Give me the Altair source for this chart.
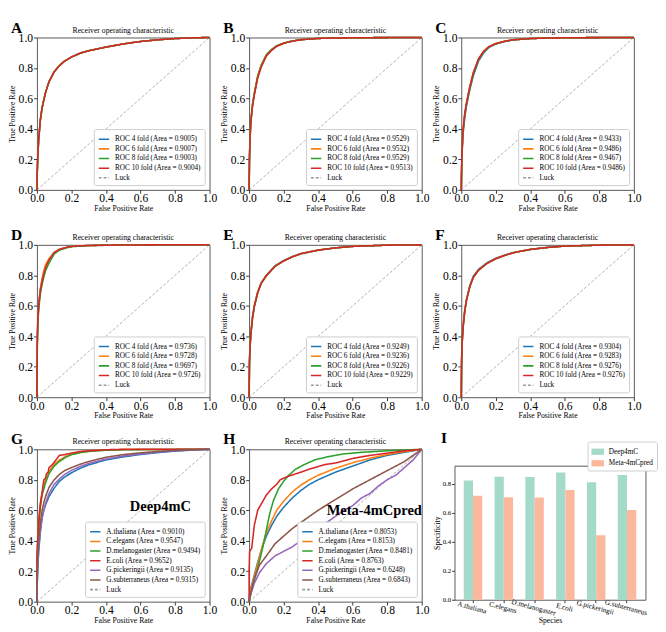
import altair as alt
import pandas as pd

FONT = "Liberation Serif"
TAB = ["#1f77b4", "#ff7f0e", "#2ca02c", "#d62728", "#9467bd", "#8c564b"]
LUCK_COLOR = "#9a9a9a"
PLOT_TITLE = "Receiver operating characteristic"
TICKS = [0, 0.2, 0.4, 0.6, 0.8, 1.0]
LUCK_X = [0, 1]
LUCK_Y = [0, 1]

# ---------------- Panel A ----------------
A_FPR = [0, 0.002, 0.005, 0.01, 0.02, 0.03, 0.05, 0.07, 0.1, 0.13, 0.16, 0.2, 0.25, 0.3, 0.4, 0.5, 0.6, 0.7, 0.8, 0.9, 1.0]
A_TPR_4 = [0, 0.12, 0.22, 0.33, 0.46, 0.54, 0.64, 0.71, 0.775, 0.815, 0.845, 0.872, 0.897, 0.913, 0.937, 0.958, 0.974, 0.985, 0.993, 0.998, 1.0]
A_TPR_6 = [0, 0.12, 0.22, 0.33, 0.46, 0.54, 0.64, 0.71, 0.776, 0.816, 0.846, 0.872, 0.897, 0.913, 0.937, 0.958, 0.974, 0.985, 0.993, 0.998, 1.0]
A_TPR_8 = [0, 0.12, 0.22, 0.33, 0.46, 0.54, 0.64, 0.71, 0.774, 0.815, 0.845, 0.871, 0.896, 0.913, 0.937, 0.958, 0.974, 0.985, 0.993, 0.998, 1.0]
A_TPR_10 = [0, 0.12, 0.22, 0.33, 0.46, 0.54, 0.64, 0.71, 0.775, 0.815, 0.845, 0.872, 0.897, 0.913, 0.937, 0.958, 0.974, 0.985, 0.993, 0.998, 1.0]
A_AUC = ["0.9005", "0.9007", "0.9003", "0.9004"]

# ---------------- Panel B ----------------
B_FPR = [0, 0.002, 0.005, 0.01, 0.02, 0.03, 0.05, 0.07, 0.1, 0.13, 0.16, 0.2, 0.25, 0.3, 0.4, 0.5, 0.7, 1.0]
B_TPR_4 = [0, 0.2, 0.33, 0.45, 0.56, 0.63, 0.745, 0.815, 0.885, 0.92, 0.945, 0.963, 0.977, 0.986, 0.994, 0.997, 0.999, 1.0]
B_TPR_6 = [0, 0.2, 0.33, 0.45, 0.56, 0.635, 0.75, 0.82, 0.887, 0.921, 0.946, 0.963, 0.977, 0.986, 0.994, 0.997, 0.999, 1.0]
B_TPR_8 = [0, 0.2, 0.33, 0.45, 0.56, 0.63, 0.745, 0.815, 0.885, 0.92, 0.945, 0.963, 0.977, 0.986, 0.994, 0.997, 0.999, 1.0]
B_TPR_10 = [0, 0.19, 0.32, 0.44, 0.55, 0.62, 0.735, 0.805, 0.878, 0.915, 0.942, 0.961, 0.976, 0.985, 0.994, 0.997, 0.999, 1.0]
B_AUC = ["0.9529", "0.9532", "0.9529", "0.9513"]

# ---------------- Panel C ----------------
C_FPR = [0, 0.002, 0.005, 0.01, 0.02, 0.03, 0.05, 0.07, 0.1, 0.13, 0.16, 0.2, 0.25, 0.3, 0.4, 0.5, 0.7, 1.0]
C_TPR_4 = [0, 0.13, 0.24, 0.36, 0.47, 0.55, 0.66, 0.75, 0.845, 0.9, 0.935, 0.957, 0.973, 0.984, 0.993, 0.997, 0.999, 1.0]
C_TPR_6 = [0, 0.15, 0.27, 0.39, 0.5, 0.57, 0.68, 0.77, 0.86, 0.91, 0.94, 0.96, 0.975, 0.985, 0.993, 0.997, 0.999, 1.0]
C_TPR_8 = [0, 0.14, 0.26, 0.38, 0.49, 0.56, 0.67, 0.76, 0.855, 0.905, 0.938, 0.959, 0.974, 0.985, 0.993, 0.997, 0.999, 1.0]
C_TPR_10 = [0, 0.15, 0.27, 0.39, 0.5, 0.57, 0.68, 0.77, 0.86, 0.91, 0.94, 0.96, 0.975, 0.985, 0.993, 0.997, 0.999, 1.0]
C_AUC = ["0.9433", "0.9486", "0.9467", "0.9486"]

# ---------------- Panel D ----------------
D_FPR = [0, 0.002, 0.005, 0.01, 0.02, 0.03, 0.04, 0.05, 0.07, 0.1, 0.13, 0.17, 0.2, 0.3, 0.5, 0.7, 1.0]
D_TPR_4 = [0, 0.36, 0.51, 0.61, 0.71, 0.77, 0.82, 0.86, 0.905, 0.95, 0.97, 0.983, 0.99, 0.996, 0.999, 1.0, 1.0]
D_TPR_6 = [0, 0.34, 0.49, 0.6, 0.71, 0.78, 0.83, 0.87, 0.91, 0.95, 0.97, 0.983, 0.99, 0.996, 0.999, 1.0, 1.0]
D_TPR_8 = [0, 0.33, 0.47, 0.57, 0.68, 0.74, 0.79, 0.83, 0.88, 0.94, 0.965, 0.98, 0.988, 0.995, 0.999, 1.0, 1.0]
D_TPR_10 = [0, 0.35, 0.5, 0.6, 0.7, 0.76, 0.81, 0.85, 0.9, 0.95, 0.97, 0.983, 0.99, 0.996, 0.999, 1.0, 1.0]
D_AUC = ["0.9736", "0.9728", "0.9697", "0.9726"]

# ---------------- Panel E ----------------
E_FPR = [0, 0.002, 0.005, 0.01, 0.02, 0.03, 0.05, 0.07, 0.1, 0.15, 0.2, 0.25, 0.3, 0.4, 0.5, 0.6, 0.8, 1.0]
E_TPR_4 = [0, 0.22, 0.32, 0.42, 0.53, 0.6, 0.69, 0.75, 0.8, 0.862, 0.897, 0.923, 0.943, 0.966, 0.98, 0.99, 0.998, 1.0]
E_TPR_6 = [0, 0.23, 0.33, 0.42, 0.53, 0.6, 0.69, 0.75, 0.8, 0.86, 0.895, 0.922, 0.942, 0.966, 0.98, 0.99, 0.998, 1.0]
E_TPR_8 = [0, 0.22, 0.32, 0.41, 0.52, 0.59, 0.685, 0.745, 0.797, 0.858, 0.894, 0.921, 0.941, 0.965, 0.98, 0.99, 0.998, 1.0]
E_TPR_10 = [0, 0.22, 0.32, 0.41, 0.52, 0.595, 0.688, 0.748, 0.798, 0.859, 0.894, 0.921, 0.942, 0.965, 0.98, 0.99, 0.998, 1.0]
E_AUC = ["0.9249", "0.9236", "0.9226", "0.9229"]

# ---------------- Panel F ----------------
F_FPR = [0, 0.002, 0.005, 0.01, 0.02, 0.03, 0.05, 0.07, 0.1, 0.15, 0.2, 0.25, 0.3, 0.4, 0.5, 0.6, 0.8, 1.0]
F_TPR_4 = [0, 0.25, 0.36, 0.46, 0.57, 0.64, 0.735, 0.795, 0.84, 0.883, 0.912, 0.932, 0.949, 0.97, 0.983, 0.992, 0.998, 1.0]
F_TPR_6 = [0, 0.25, 0.36, 0.46, 0.57, 0.64, 0.73, 0.79, 0.835, 0.88, 0.91, 0.93, 0.948, 0.97, 0.983, 0.992, 0.998, 1.0]
F_TPR_8 = [0, 0.24, 0.35, 0.45, 0.56, 0.635, 0.727, 0.787, 0.833, 0.879, 0.909, 0.93, 0.948, 0.97, 0.983, 0.992, 0.998, 1.0]
F_TPR_10 = [0, 0.24, 0.35, 0.45, 0.56, 0.635, 0.727, 0.787, 0.833, 0.879, 0.909, 0.93, 0.948, 0.97, 0.983, 0.992, 0.998, 1.0]
F_AUC = ["0.9304", "0.9283", "0.9276", "0.9276"]

FOLDS = ["4", "6", "8", "10"]

# ---------------- Species panels G / H ----------------
SPECIES = ["A.thaliana", "C.elegans", "D.melanogaster", "E.coli", "G.pickeringii", "G.subterraneus"]

G_ATH_X = [0, 0.002, 0.005, 0.01, 0.02, 0.03, 0.04, 0.05, 0.07, 0.1, 0.13, 0.16, 0.2, 0.25, 0.3, 0.4, 0.5, 0.6, 0.7, 0.8, 0.9, 1.0]
G_ATH_Y = [0, 0.12, 0.22, 0.33, 0.46, 0.55, 0.6, 0.635, 0.69, 0.745, 0.79, 0.818, 0.846, 0.875, 0.898, 0.93, 0.95, 0.966, 0.978, 0.988, 0.995, 1.0]
G_CEL_X = [0, 0.002, 0.005, 0.01, 0.02, 0.03, 0.05, 0.07, 0.1, 0.13, 0.17, 0.2, 0.25, 0.3, 0.4, 0.5, 0.7, 1.0]
G_CEL_Y = [0, 0.3, 0.42, 0.53, 0.65, 0.72, 0.8, 0.855, 0.9, 0.93, 0.955, 0.968, 0.98, 0.988, 0.995, 0.998, 0.999, 1.0]
G_DME_X = [0, 0.002, 0.005, 0.01, 0.02, 0.03, 0.05, 0.07, 0.1, 0.13, 0.17, 0.2, 0.25, 0.3, 0.4, 0.5, 0.7, 1.0]
G_DME_Y = [0, 0.28, 0.4, 0.5, 0.62, 0.7, 0.78, 0.84, 0.89, 0.92, 0.95, 0.964, 0.978, 0.986, 0.994, 0.997, 0.999, 1.0]
G_ECO_X = [0, 0, 0.003, 0.006, 0.01, 0.013, 0.016, 0.02, 0.025, 0.03, 0.035, 0.04, 0.05, 0.055, 0.065, 0.07, 0.08, 0.09, 0.1, 0.11, 0.12, 0.13, 0.16, 0.2, 0.25, 0.3, 0.4, 0.5, 0.7, 1.0]
G_ECO_Y = [0, 0.3, 0.37, 0.43, 0.5, 0.55, 0.6, 0.64, 0.68, 0.71, 0.76, 0.8, 0.81, 0.84, 0.85, 0.88, 0.89, 0.9, 0.915, 0.93, 0.945, 0.96, 0.965, 0.975, 0.985, 0.99, 0.997, 1.0, 1.0, 1.0]
G_GPI_X = [0, 0.002, 0.005, 0.01, 0.02, 0.03, 0.04, 0.05, 0.07, 0.1, 0.13, 0.16, 0.2, 0.25, 0.3, 0.4, 0.5, 0.6, 0.7, 0.8, 0.9, 1.0]
G_GPI_Y = [0, 0.14, 0.24, 0.34, 0.47, 0.55, 0.6, 0.645, 0.71, 0.77, 0.805, 0.835, 0.862, 0.887, 0.907, 0.936, 0.956, 0.97, 0.981, 0.99, 0.996, 1.0]
G_GSU_X = [0, 0.002, 0.005, 0.01, 0.02, 0.03, 0.04, 0.05, 0.07, 0.1, 0.13, 0.16, 0.2, 0.25, 0.3, 0.4, 0.5, 0.6, 0.7, 0.8, 0.9, 1.0]
G_GSU_Y = [0, 0.18, 0.3, 0.4, 0.52, 0.6, 0.65, 0.69, 0.75, 0.8, 0.835, 0.86, 0.88, 0.902, 0.92, 0.948, 0.965, 0.977, 0.986, 0.993, 0.997, 1.0]
G_AUC = ["0.9010", "0.9547", "0.9494", "0.9652", "0.9135", "0.9315"]

H_ATH_X = [0, 0.005, 0.02, 0.05, 0.08, 0.1, 0.13, 0.16, 0.2, 0.25, 0.3, 0.35, 0.4, 0.5, 0.6, 0.7, 0.8, 0.9, 1.0]
H_ATH_Y = [0, 0.07, 0.13, 0.26, 0.37, 0.43, 0.5, 0.56, 0.62, 0.68, 0.73, 0.77, 0.8, 0.85, 0.89, 0.93, 0.96, 0.98, 1.0]
H_CEL_X = [0, 0.005, 0.02, 0.05, 0.08, 0.1, 0.13, 0.16, 0.2, 0.25, 0.3, 0.35, 0.4, 0.5, 0.6, 0.7, 0.8, 0.9, 1.0]
H_CEL_Y = [0, 0.06, 0.12, 0.25, 0.38, 0.45, 0.53, 0.6, 0.66, 0.72, 0.765, 0.8, 0.83, 0.875, 0.912, 0.942, 0.966, 0.985, 1.0]
H_DME_X = [0, 0.02, 0.05, 0.08, 0.1, 0.12, 0.14, 0.17, 0.2, 0.23, 0.27, 0.32, 0.38, 0.45, 0.55, 0.65, 0.8, 1.0]
H_DME_Y = [0, 0.1, 0.22, 0.36, 0.47, 0.58, 0.66, 0.74, 0.79, 0.83, 0.87, 0.9, 0.93, 0.95, 0.97, 0.98, 0.99, 1.0]
H_ECO_X = [0, 0, 0.003, 0.015, 0.02, 0.025, 0.03, 0.04, 0.05, 0.07, 0.1, 0.13, 0.16, 0.18, 0.22, 0.3, 0.35, 0.44, 0.5, 0.6, 0.7, 0.8, 0.9, 1.0]
H_ECO_Y = [0, 0.2, 0.33, 0.35, 0.4, 0.45, 0.5, 0.55, 0.6, 0.64, 0.7, 0.74, 0.77, 0.8, 0.82, 0.85, 0.87, 0.9, 0.91, 0.94, 0.96, 0.975, 0.99, 1.0]
H_GPI_X = [0, 0.01, 0.03, 0.06, 0.1, 0.15, 0.2, 0.25, 0.3, 0.35, 0.4, 0.45, 0.5, 0.55, 0.6, 0.65, 0.7, 0.75, 0.8, 0.85, 0.9, 0.95, 1.0]
H_GPI_Y = [0, 0.05, 0.12, 0.19, 0.25, 0.3, 0.33, 0.36, 0.4, 0.44, 0.48, 0.52, 0.56, 0.6, 0.63, 0.68, 0.71, 0.76, 0.8, 0.83, 0.88, 0.93, 1.0]
H_GSU_X = [0, 0.01, 0.03, 0.06, 0.1, 0.15, 0.2, 0.25, 0.3, 0.35, 0.4, 0.5, 0.6, 0.7, 0.8, 0.9, 0.95, 1.0]
H_GSU_Y = [0, 0.06, 0.15, 0.24, 0.3, 0.38, 0.43, 0.48, 0.52, 0.56, 0.6, 0.67, 0.74, 0.8, 0.86, 0.92, 0.96, 1.0]
H_AUC = ["0.8053", "0.8153", "0.8481", "0.8763", "0.6248", "0.6843"]

# ---------------- Panel I (bars) ----------------
MODELS = ["Deep4mC", "Meta-4mCpred"]
DEEP_SPEC = [0.822, 0.849, 0.847, 0.878, 0.811, 0.86]
META_SPEC = [0.717, 0.708, 0.706, 0.758, 0.445, 0.619]
BAR_COLORS = ["#a3dac9", "#fcb89d"]

PW, PH = 179, 158
FRAME = "#555555"


def unit_scale():
    return alt.Scale(domain=[0, 1], nice=False, zero=False)


XAX = alt.Axis(values=TICKS, format=".1f", title="False Positive Rate", titleFontSize=8,
               labelFontSize=12, tickSize=3.5, labelPadding=0, titlePadding=1,
               labelFlush=False, labelOverlap=False, labelBound=False, domain=False, grid=False)
YAX = alt.Axis(values=TICKS, format=".1f", title="True Positive Rate", titleFontSize=8,
               labelFontSize=12, tickSize=3.5, labelPadding=1, titlePadding=2,
               labelFlush=False, labelOverlap=False, labelBound=False, domain=False, grid=False)


def roc_panel(letter, labels, curves, colors, tag=None, tag_x=0.7, tag_y=0.6):
    rows = []
    for lab, (fx, ty) in zip(labels, curves):
        for i, (a, b) in enumerate(zip(fx, ty)):
            rows.append({"series": lab, "fpr": a, "tpr": b, "i": i, "w": 1.6})
    for i, (a, b) in enumerate(zip(LUCK_X, LUCK_Y)):
        rows.insert(i, {"series": "Luck", "fpr": a, "tpr": b, "i": i, "w": 0.8})
    df = pd.DataFrame(rows)
    domain = labels + ["Luck"]
    legend = alt.Legend(
        orient="bottom-right", title=None, symbolType="stroke", symbolSize=115,
        symbolStrokeWidth=1.6, labelFont=FONT, labelFontSize=7.5, labelLimit=300,
        strokeColor="#cccccc", fillColor="white", padding=4, cornerRadius=2,
        offset=5, rowPadding=0, labelOffset=5,
    )
    lines = alt.Chart(df).mark_line().encode(
        x=alt.X("fpr:Q", scale=unit_scale(), axis=XAX),
        y=alt.Y("tpr:Q", scale=unit_scale(), axis=YAX),
        color=alt.Color("series:N", scale=alt.Scale(domain=domain, range=colors + [LUCK_COLOR]), legend=legend),
        strokeDash=alt.StrokeDash("series:N", scale=alt.Scale(domain=domain, range=[[1, 0]] * len(labels) + [[3, 2]]), legend=legend),
        strokeWidth=alt.StrokeWidth("w:Q", scale=None, legend=None),
        order=alt.Order("i:Q"),
    )

    def text_layer(txt, x, y, **kw):
        return alt.Chart(pd.DataFrame({"t": [txt]})).mark_text(font=FONT, color="black", **kw).encode(
            x=alt.XDatum(x, axis=XAX, scale=unit_scale()),
            y=alt.YDatum(y, axis=YAX, scale=unit_scale()),
            text="t:N",
        )

    layers = [
        lines,
        text_layer(PLOT_TITLE, 0.5, 1.0, fontSize=8, baseline="bottom", dy=-3),
        text_layer(letter, -0.15, 1.115, fontSize=16, fontWeight="bold", align="left", baseline="top"),
    ]
    if tag:
        layers.append(text_layer(tag, tag_x, tag_y, fontSize=15, fontWeight="bold"))
    return alt.layer(*layers).properties(width=PW, height=PH)


def fold_panel(letter, fpr, tprs, aucs):
    labels = [f"ROC {f} fold (Area = {a})" for f, a in zip(FOLDS, aucs)]
    return roc_panel(letter, labels, [(fpr, t) for t in tprs], TAB[:4])


pA = fold_panel("A", A_FPR, [A_TPR_4, A_TPR_6, A_TPR_8, A_TPR_10], A_AUC)
pB = fold_panel("B", B_FPR, [B_TPR_4, B_TPR_6, B_TPR_8, B_TPR_10], B_AUC)
pC = fold_panel("C", C_FPR, [C_TPR_4, C_TPR_6, C_TPR_8, C_TPR_10], C_AUC)
pD = fold_panel("D", D_FPR, [D_TPR_4, D_TPR_6, D_TPR_8, D_TPR_10], D_AUC)
pE = fold_panel("E", E_FPR, [E_TPR_4, E_TPR_6, E_TPR_8, E_TPR_10], E_AUC)
pF = fold_panel("F", F_FPR, [F_TPR_4, F_TPR_6, F_TPR_8, F_TPR_10], F_AUC)

g_labels = [f"{s} (Area = {a})" for s, a in zip(SPECIES, G_AUC)]
pG = roc_panel("G", g_labels, [(G_ATH_X, G_ATH_Y), (G_CEL_X, G_CEL_Y), (G_DME_X, G_DME_Y),
                               (G_ECO_X, G_ECO_Y), (G_GPI_X, G_GPI_Y), (G_GSU_X, G_GSU_Y)],
               TAB, tag="Deep4mC", tag_x=0.715, tag_y=0.63)
h_labels = [f"{s} (Area = {a})" for s, a in zip(SPECIES, H_AUC)]
pH = roc_panel("H", h_labels, [(H_ATH_X, H_ATH_Y), (H_CEL_X, H_CEL_Y), (H_DME_X, H_DME_Y),
                               (H_ECO_X, H_ECO_Y), (H_GPI_X, H_GPI_Y), (H_GSU_X, H_GSU_Y)],
               TAB, tag="Meta-4mCpred", tag_x=0.725, tag_y=0.6)

bar_rows = []
for s, d, m in zip(SPECIES, DEEP_SPEC, META_SPEC):
    bar_rows.append({"species": s, "model": MODELS[0], "value": d})
    bar_rows.append({"species": s, "model": MODELS[1], "value": m})
bars_df = pd.DataFrame(bar_rows)

IW, IH, ITOP = 198, 156, 17
y_scale_I = alt.Scale(domain=[0, 0.925], nice=False, range=[IH, ITOP])
x_I = alt.X("species:N", sort=SPECIES, scale=alt.Scale(paddingInner=0.4, paddingOuter=0.3),
            axis=alt.Axis(title="Species", titleFontSize=8, labelFontSize=7.5, labelAngle=15,
                          labelAlign="center", labelBaseline="top", labelLimit=200,
                          labelOverlap=False, tickSize=3, labelPadding=1, titlePadding=0,
                          domain=True, domainColor=FRAME))
xoff_I = alt.XOffset("model:N", sort=MODELS, scale=alt.Scale(paddingInner=0, paddingOuter=0))
bars = alt.Chart(bars_df).mark_bar().encode(
    x=x_I, xOffset=xoff_I,
    y=alt.Y("value:Q", scale=y_scale_I,
            axis=alt.Axis(values=[0, 0.2, 0.4, 0.6, 0.8], format=".1f", title="Specificity",
                          titleFontSize=8, labelFontSize=7, tickSize=3, labelPadding=1,
                          titlePadding=1, domain=True, domainColor=FRAME, grid=False)),
    color=alt.Color("model:N", sort=MODELS, scale=alt.Scale(domain=MODELS, range=BAR_COLORS),
                    legend=alt.Legend(orient="none", legendX=138, legendY=-8, title=None,
                                      symbolType="M-1,-0.5H1V0.5H-1Z", symbolSize=169,
                                      symbolStrokeWidth=0, labelFont=FONT, labelFontSize=7.5,
                                      strokeColor="#cccccc", fillColor="white", padding=4,
                                      cornerRadius=2, rowPadding=2, labelOffset=5)),
)
frame = alt.Chart(bars_df).mark_bar(opacity=0).encode(
    x=x_I, xOffset=xoff_I,
    y=alt.Y("value:Q", scale=y_scale_I,
            axis=alt.Axis(orient="right", values=[0.925], labels=False, ticks=False, title=None,
                          grid=True, gridColor=FRAME, gridOpacity=1, gridWidth=1,
                          domain=True, domainColor=FRAME)),
)
pI = alt.layer(bars, frame).resolve_axis(y="independent").properties(
    width=IW, height=IH, view=alt.ViewBackground(stroke="transparent"),
    title=alt.TitleParams("I", anchor="start", frame="group", dx=-14, dy=5, offset=0,
                          fontSize=16, font=FONT, fontWeight="bold", color="black"),
)

RES = dict(color="independent", strokeDash="independent", x="independent", y="independent")

row1 = alt.hconcat(pA, pB, pC, spacing=3).resolve_scale(**RES)
row2 = alt.hconcat(pD, pE, pF, spacing=3).resolve_scale(**RES)
row3 = alt.hconcat(pG, pH, pI, spacing=3).resolve_scale(**RES)
upper = alt.vconcat(row1, row2, spacing=14).resolve_scale(**RES)
chart = alt.vconcat(upper, row3, spacing=10).resolve_scale(**RES).properties(
    padding=0
).configure_axis(
    labelFont=FONT, titleFont=FONT, labelColor="black", titleColor="black",
    tickColor="#333333", titleFontWeight="normal", grid=False
).configure_view(
    stroke=FRAME, strokeWidth=1
).configure_legend(
    labelFont=FONT
).configure_text(
    font=FONT
)

chart.save("out.html", embed_options={"renderer": "svg", "actions": False})
